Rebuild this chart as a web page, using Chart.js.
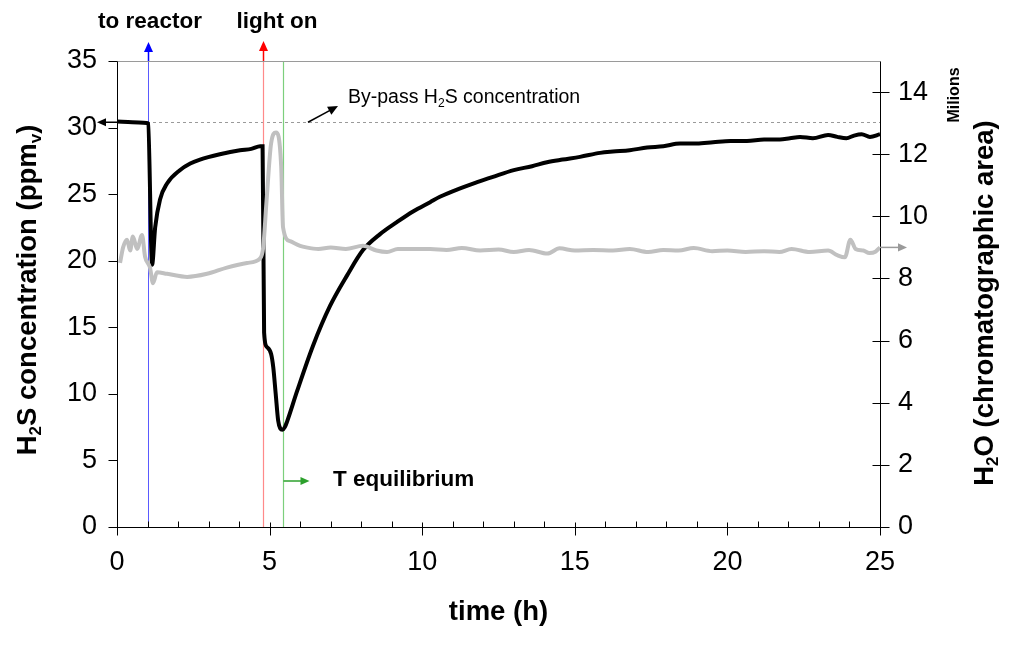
<!DOCTYPE html>
<html>
<head>
<meta charset="utf-8">
<script src="https://cdn.jsdelivr.net/npm/chart.js@4.4.1/dist/chart.umd.min.js"></script>
<style>
  html, body { margin: 0; padding: 0; background: #ffffff; }
</style>
</head>
<body>
<canvas id="Reactor__Chart" width="1013" height="645"></canvas>
<script>
/* H2S concentration (left axis, ppmv) */
const h2sTime = [0, 0.5, 0.97, 1.02, 1.15, 1.25, 1.41, 1.64, 2.06, 2.4, 2.72, 3.37, 4.03, 4.4, 4.69, 4.77,
  4.82, 4.92, 5.05, 5.12, 5.2, 5.28, 5.35, 5.42, 5.5, 5.57, 5.9, 6.42, 6.98, 7.54, 8.06, 8.62, 9.17, 9.7,
  10.26, 10.58, 11.2, 11.8, 12.32, 13.0, 13.6, 14.09, 14.6, 15.17, 15.83, 16.25, 16.8, 17.37, 17.9, 18.45,
  19.0, 19.53, 20.1, 20.64, 21.2, 21.72, 22.05, 22.38, 22.8, 23.3, 23.6, 23.9, 24.15, 24.4, 24.67, 25.0];
const h2sValues = [30.45, 30.4, 30.35, 30.3, 19.7, 22.5, 24.6, 25.8, 26.8, 27.3, 27.6, 28.0, 28.3, 28.4, 28.6, 28.6,
  14.6, 13.5, 13.0, 12.0, 10.0, 8.0, 7.4, 7.3, 7.5, 7.9, 10.2, 13.6, 16.6, 18.9, 20.8, 22.0, 22.9, 23.7,
  24.4, 24.8, 25.4, 25.9, 26.3, 26.8, 27.1, 27.4, 27.6, 27.8, 28.1, 28.2, 28.3, 28.5, 28.6, 28.8,
  28.8, 28.9, 29.0, 29.0, 29.1, 29.1, 29.2, 29.3, 29.2, 29.45, 29.3, 29.2, 29.4, 29.5, 29.3, 29.5];

/* H2O chromatographic area (right axis, millions) */
const h2oTime = [0.1, 0.2, 0.33, 0.43, 0.52, 0.66, 0.82, 0.92, 1.08, 1.18, 1.31, 1.64, 2.3, 2.95, 3.6, 4.26,
  4.69, 4.79, 4.9, 5.05, 5.21, 5.38, 5.44, 5.67, 6.0, 6.2, 6.6, 7.0, 7.5, 8.06, 8.5, 8.85, 9.2, 9.8, 10.26,
  10.8, 11.3, 11.9, 12.5, 13.0, 13.5, 14.1, 14.5, 15.0, 15.6, 16.25, 16.8, 17.4, 17.9, 18.4, 18.9, 19.5,
  20.0, 20.6, 21.2, 21.7, 22.1, 22.7, 23.3, 23.6, 23.85, 24.03, 24.2, 24.45, 24.65, 24.85, 25.0];
const h2oValues = [8.5, 9.0, 9.25, 8.9, 9.35, 8.95, 9.4, 8.7, 8.35, 7.85, 8.2, 8.15, 8.05, 8.15, 8.35, 8.5,
  8.65, 9.0, 10.5, 12.35, 12.7, 11.6, 9.65, 9.2, 9.05, 9.0, 8.95, 9.0, 8.95, 9.05, 8.9, 8.85, 8.95, 8.95, 8.95,
  8.92, 8.98, 8.9, 8.93, 8.85, 8.92, 8.8, 8.97, 8.9, 8.92, 8.9, 8.95, 8.85, 8.92, 8.9, 8.98, 8.88,
  8.9, 8.85, 8.88, 8.85, 8.95, 8.85, 8.9, 8.75, 8.68, 9.25, 8.95, 8.9, 8.82, 8.86, 9.0];

/* Axis ticks */
const timeTicks = [0, 5, 10, 15, 20, 25];
const h2sTicks = [0, 5, 10, 15, 20, 25, 30, 35];
const h2oTicks = [0, 2, 4, 6, 8, 10, 12, 14];

/* Events marked on the chart */
const reactorTime = 1.02;
const lightTime = 4.78;
const equilibriumTime = 5.44;
const bypassLevel = 30.4;
const h2oLevel = 9.0;

const FONT = "'Liberation Sans', Arial, sans-serif";
Chart.defaults.font.family = FONT;
Chart.defaults.color = "#000000";

/* draws text with subscript parts, optionally rotated */
function drawRich(ctx, parts, x, y, angle, size, weight, align) {
  ctx.save();
  ctx.translate(x, y);
  ctx.rotate(angle);
  let total = 0;
  parts.forEach(p => {
    ctx.font = weight + " " + (p.sub ? size * 0.62 : size) + "px " + FONT;
    total += ctx.measureText(p.t).width;
  });
  let cx = align === "left" ? 0 : -total / 2;
  ctx.textBaseline = "middle";
  ctx.textAlign = "left";
  ctx.fillStyle = "#000000";
  parts.forEach(p => {
    const s = p.sub ? size * 0.62 : size;
    ctx.font = weight + " " + s + "px " + FONT;
    ctx.fillText(p.t, cx, p.sub ? size * 0.3 : 0);
    cx += ctx.measureText(p.t).width;
  });
  ctx.restore();
}

function drawArrow(ctx, x1, y1, x2, y2, color, width, head) {
  const a = Math.atan2(y2 - y1, x2 - x1);
  ctx.save();
  ctx.strokeStyle = color;
  ctx.fillStyle = color;
  ctx.lineWidth = width;
  ctx.beginPath();
  ctx.moveTo(x1, y1);
  ctx.lineTo(x2 - head * 0.7 * Math.cos(a), y2 - head * 0.7 * Math.sin(a));
  ctx.stroke();
  ctx.beginPath();
  ctx.moveTo(x2, y2);
  ctx.lineTo(x2 - head * Math.cos(a) + head * 0.45 * Math.sin(a), y2 - head * Math.sin(a) - head * 0.45 * Math.cos(a));
  ctx.lineTo(x2 - head * Math.cos(a) - head * 0.45 * Math.sin(a), y2 - head * Math.sin(a) + head * 0.45 * Math.cos(a));
  ctx.closePath();
  ctx.fill();
  ctx.restore();
}

function line(ctx, x1, y1, x2, y2, color, width, dash) {
  ctx.save();
  ctx.strokeStyle = color;
  ctx.lineWidth = width;
  ctx.setLineDash(dash || []);
  ctx.beginPath();
  ctx.moveTo(x1, y1);
  ctx.lineTo(x2, y2);
  ctx.stroke();
  ctx.restore();
}

/* Markers behind the curves: event lines and by-pass level */
const markerPlugin = {
  id: "markers",
  beforeDatasetsDraw(chart) {
    const { ctx, chartArea: a, scales } = chart;
    const xb = Math.round(scales.x.getPixelForValue(reactorTime)) + 0.5;
    const xl = Math.round(scales.x.getPixelForValue(lightTime)) + 0.5;
    const xe = Math.round(scales.x.getPixelForValue(equilibriumTime)) + 0.5;
    const yb = Math.round(scales.y.getPixelForValue(bypassLevel)) + 0.5;
    line(ctx, a.left, yb, a.right, yb, "#9a9a9a", 1, [3, 3]);
    line(ctx, xb, a.top, xb, a.bottom, "#5a5aff", 1);
    line(ctx, xl, a.top, xl, a.bottom, "#ff8a8a", 1.2);
    line(ctx, xe, a.top, xe, a.bottom, "#7ccf7c", 1.2);
  }
};

/* Axes, ticks, arrows and all labels */
const framePlugin = {
  id: "frame",
  afterDraw(chart) {
    const { ctx, chartArea: a, scales } = chart;
    const L = a.left + 0.5, R = a.right + 0.5, T = a.top + 0.5, B = a.bottom + 0.5;
    line(ctx, L, T, R, T, "#9a9a9a", 1);
    line(ctx, L, T, L, B, "#000000", 1);
    line(ctx, R, T, R, B, "#000000", 1);
    line(ctx, L - 1, B, R + 1, B, "#000000", 1);

    for (let v = 0; v <= 25; v++) {
      const px = Math.round(scales.x.getPixelForValue(v)) + 0.5;
      if (v % 5 === 0) line(ctx, px, B - 5, px, B + 8, "#000000", 1);
      else line(ctx, px, B - 6, px, B, "#000000", 1);
    }
    h2sTicks.forEach(v => {
      const py = Math.round(scales.y.getPixelForValue(v)) + 0.5;
      line(ctx, L - 9, py, L, py, "#000000", 1);
    });
    h2oTicks.forEach(v => {
      const py = Math.round(scales.y2.getPixelForValue(v)) + 0.5;
      line(ctx, R - 8, py, R + 9, py, "#000000", 1);
    });

    const xb = Math.round(scales.x.getPixelForValue(reactorTime)) + 0.5;
    const xl = Math.round(scales.x.getPixelForValue(lightTime)) + 0.5;
    const xe = Math.round(scales.x.getPixelForValue(equilibriumTime)) + 0.5;
    const yb = scales.y.getPixelForValue(bypassLevel);
    const yw = scales.y2.getPixelForValue(h2oLevel);

    drawArrow(ctx, xb, a.top, xb, 42, "#0000ff", 1.5, 10);
    drawArrow(ctx, xl, a.top, xl, 41, "#ff0000", 1.5, 10);
    drawArrow(ctx, xe, 481, xe + 26, 481, "#2ca02c", 1.5, 9);
    drawArrow(ctx, a.left + 4, yb, a.left - 20, yb, "#000000", 1.5, 9);
    drawArrow(ctx, a.right, yw, a.right + 27, yw, "#9a9a9a", 1.5, 9);
    drawArrow(ctx, 308, yb, 338, 106, "#000000", 1.5, 10);

    drawRich(ctx, [{ t: "to reactor" }], 150, 22, 0, 22.5, "bold");
    drawRich(ctx, [{ t: "light on" }], 277, 22, 0, 22.5, "bold");
    drawRich(ctx, [{ t: "T equilibrium" }], 333, 480, 0, 22.5, "bold", "left");
    drawRich(ctx, [{ t: "By-pass H" }, { t: "2", sub: true }, { t: "S concentration" }], 348, 98, 0, 19.5, "normal", "left");
    drawRich(ctx, [{ t: "Milions" }], 955, 95, -Math.PI / 2, 16, "bold");

    drawRich(ctx, [{ t: "H" }, { t: "2", sub: true }, { t: "S concentration (ppm" }, { t: "v", sub: true }, { t: ")" }],
      28, 290, -Math.PI / 2, 27.5, "bold");
    drawRich(ctx, [{ t: "H" }, { t: "2", sub: true }, { t: "O (chromatographic area)" }],
      985, 303, -Math.PI / 2, 27.5, "bold");
    drawRich(ctx, [{ t: "time (h)" }], (a.left + a.right) / 2, 612, 0, 27.5, "bold");
  }
};

const h2sData = h2sTime.map((t, i) => ({ x: t, y: h2sValues[i] }));
const h2oData = h2oTime.map((t, i) => ({ x: t, y: h2oValues[i] }));

const ctx = document.getElementById("Reactor__Chart");
const myChart = new Chart(ctx, {
  type: "line",
  plugins: [markerPlugin, framePlugin],
  data: {
    datasets: [
      {
        label: "H2O",
        data: h2oData,
        yAxisID: "y2",
        borderColor: "#c0c0c0",
        borderWidth: 4,
        pointRadius: 0,
        cubicInterpolationMode: "monotone",
        order: 0
      },
      {
        label: "H2S",
        data: h2sData,
        yAxisID: "y",
        borderColor: "#000000",
        borderWidth: 4,
        pointRadius: 0,
        cubicInterpolationMode: "monotone",
        order: 1
      }
    ]
  },
  options: {
    responsive: false,
    animation: false,
    layout: { padding: { top: 61, left: 0, right: 0, bottom: 0 } },
    plugins: { legend: { display: false }, tooltip: { enabled: false } },
    scales: {
      x: {
        type: "linear",
        min: 0,
        max: 25,
        afterBuildTicks: s => { s.ticks = timeTicks.map(v => ({ value: v })); },
        afterFit: s => { s.height = 118; },
        grid: { display: false, drawTicks: false },
        border: { display: false },
        ticks: { font: { size: 27 }, padding: 19, maxRotation: 0 }
      },
      y: {
        position: "left",
        min: 0,
        max: 35,
        afterBuildTicks: s => { s.ticks = h2sTicks.map(v => ({ value: v })); },
        afterFit: s => { s.width = 117; },
        grid: { display: false, drawTicks: false },
        border: { display: false },
        ticks: { font: { size: 27 }, padding: 20 }
      },
      y2: {
        position: "right",
        min: 0,
        max: 15,
        afterBuildTicks: s => { s.ticks = h2oTicks.map(v => ({ value: v })); },
        afterFit: s => { s.width = 133; },
        grid: { display: false, drawTicks: false },
        border: { display: false },
        ticks: { font: { size: 27 }, padding: 18 }
      }
    }
  }
});
</script>
</body>
</html>
